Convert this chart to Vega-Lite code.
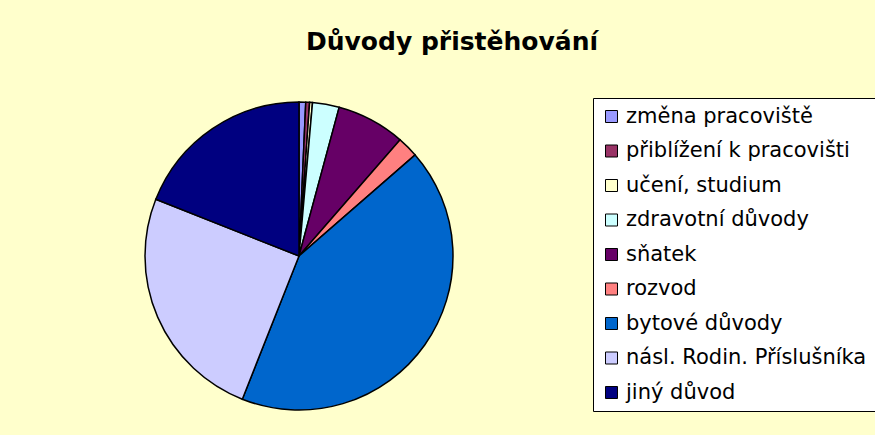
{
  "$schema": "https://vega.github.io/schema/vega-lite/v6.json",
  "width": 598,
  "height": 358,
  "autosize": {"type": "none"},
  "padding": {"left": 0, "top": 77, "right": 277, "bottom": 0},
  "background": "#FFFFCC",
  "title": {
    "text": "Důvody přistěhování",
    "font": "DejaVu Sans",
    "fontSize": 25,
    "fontWeight": "bold",
    "color": "black",
    "anchor": "middle",
    "frame": "group",
    "dx": 153,
    "offset": 22
  },
  "data": {
    "values": [
      {"i": 1, "duvod": "změna pracoviště", "podil": 0.7},
      {"i": 2, "duvod": "přiblížení k pracovišti", "podil": 0.4},
      {"i": 3, "duvod": "učení, studium", "podil": 0.3},
      {"i": 4, "duvod": "zdravotní důvody", "podil": 2.8},
      {"i": 5, "duvod": "sňatek", "podil": 7.2},
      {"i": 6, "duvod": "rozvod", "podil": 2.2},
      {"i": 7, "duvod": "bytové důvody", "podil": 42.4},
      {"i": 8, "duvod": "násl. Rodin. Příslušníka", "podil": 25.0},
      {"i": 9, "duvod": "jiný důvod", "podil": 19.0}
    ]
  },
  "mark": {"type": "arc", "outerRadius": 154, "stroke": "black", "strokeWidth": 1.5},
  "encoding": {
    "theta": {"field": "podil", "type": "quantitative", "stack": true},
    "order": {"field": "i", "type": "quantitative"},
    "color": {
      "field": "duvod",
      "type": "nominal",
      "scale": {
        "domain": ["změna pracoviště", "přiblížení k pracovišti", "učení, studium", "zdravotní důvody", "sňatek", "rozvod", "bytové důvody", "násl. Rodin. Příslušníka", "jiný důvod"],
        "range": ["#9999FF", "#993366", "#FFFFCC", "#CCFFFF", "#660066", "#FF8080", "#0066CC", "#CCCCFF", "#000080"]
      },
      "legend": {
        "title": null,
        "orient": "none",
        "legendX": 593,
        "legendY": 21,
        "padding": 8,
        "fillColor": "white",
        "strokeColor": "black",
        "symbolType": "square",
        "symbolSize": 144,
        "symbolStrokeColor": "black",
        "symbolStrokeWidth": 1,
        "labelFont": "DejaVu Sans",
        "labelFontSize": 21,
        "labelColor": "black",
        "labelLimit": 400,
        "labelOffset": 4,
        "rowPadding": 12.5
      }
    }
  },
  "config": {"view": {"stroke": null}}
}
